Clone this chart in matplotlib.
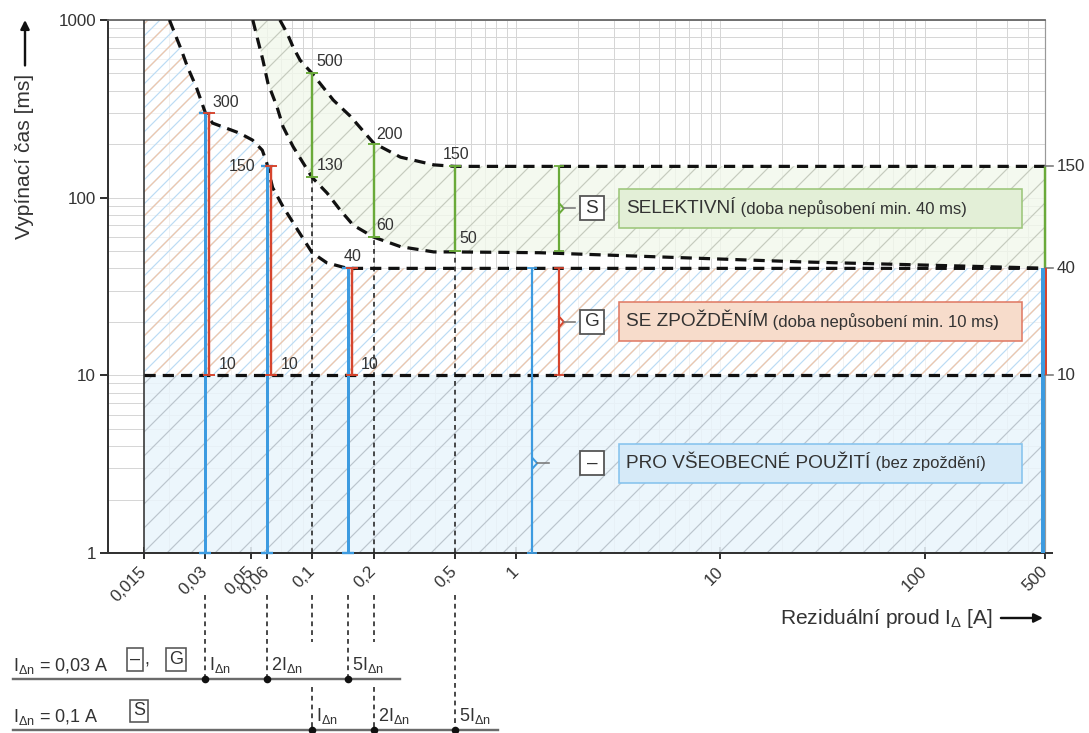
import numpy as np
import matplotlib.pyplot as plt
import matplotlib.transforms as mtransforms
from matplotlib.patches import Rectangle
from matplotlib.ticker import FixedLocator, LogLocator, NullFormatter

plt.rcParams['font.family'] = ['Liberation Sans', 'DejaVu Sans']
plt.rcParams['mathtext.fontset'] = 'custom'
plt.rcParams['mathtext.rm'] = 'Liberation Sans'
plt.rcParams['mathtext.it'] = 'Liberation Sans:italic'
plt.rcParams['hatch.linewidth'] = 0.6

# --- values --------------------------------------------------------------
# upper limit of the "general use" / "G" zone  [A], [ms]
g_x = [0.02, 0.0212, 0.0229, 0.0245, 0.0271, 0.03, 0.0325, 0.038, 0.044, 0.051,
       0.057, 0.06, 0.064, 0.072, 0.087, 0.1, 0.118, 0.142, 0.15, 500]
g_y = [1000, 845, 676, 545, 418, 300, 263, 246, 231, 211,
       185, 156, 114, 89, 63, 49, 43, 40.6, 40, 40]
# selective zone, upper and lower limit
s_up_x = [0.0695, 0.0753, 0.0806, 0.0873, 0.1, 0.127, 0.154, 0.2, 0.271, 0.394, 0.5, 500]
s_up_y = [1000, 845, 706, 594, 500, 354, 287, 203, 169, 153, 150, 150]
s_lo_x = [0.0512, 0.0542, 0.0574, 0.0607, 0.0673, 0.072, 0.0806, 0.0903, 0.1, 0.1185,
          0.1374, 0.159, 0.2, 0.271, 0.394, 0.5, 1.3, 25, 335, 500]
s_lo_y = [1000, 770, 594, 442, 324, 251, 194, 157, 130, 106,
          85, 70, 60, 53, 49.5, 49.5, 49, 43.5, 40.5, 40]

# I_dn = 0.03 A  (general use, G): 1x, 2x, 5x
gen_x = [0.03, 0.06, 0.15]
gen_max = [300, 150, 40]
g_min = 10
# I_dn = 0.1 A  (S): 1x, 2x, 5x
sel_x = [0.1, 0.2, 0.5]
sel_min = [130, 60, 50]
sel_max = [500, 200, 150]

i_min, i_max = 0.015, 500
right_vals = [150, 40, 10]

x_ticks = [0.015, 0.03, 0.05, 0.06, 0.1, 0.2, 0.5, 1, 10, 100, 500]
x_labels = ['0,015', '0,03', '0,05', '0,06', '0,1', '0,2', '0,5', '1', '10', '100', '500']
y_ticks = [1, 10, 100, 1000]

cls_key = ['S', 'G', '\u2013']
cls_title = ['SELEKTIVNÍ', 'SE ZPOŽDĚNÍM', 'PRO VŠEOBECNÉ POUŽITÍ']
cls_note = ['(doba nepůsobení min. 40 ms)', '(doba nepůsobení min. 10 ms)', '(bez zpoždění)']
cls_lo = [50, 10, 1]
cls_hi = [150, 40, 40]
cls_mid = [87, 20, 3.2]
cls_bx = [1.62, 1.62, 1.2]

row_text = ['I$_{\\mathregular{\\Delta n}}$ = 0,03 A', 'I$_{\\mathregular{\\Delta n}}$ = 0,1 A']
row_x = [gen_x, sel_x]
mult = ['', '2', '5']

# colours
BLUE = '#3d9be0'
RED = '#d6452e'
GREEN = '#6aaa3a'
TXT = '#333333'

# --- axes ----------------------------------------------------------------
L500 = np.log10(500)


def fwd(x):
    lx = np.log10(np.clip(x, 1e-9, None))
    return np.interp(lx, [-9, 2, L500, 9], [-9, 2, 2.59, 2.59 + 9 - L500])


def inv(p):
    return 10 ** np.interp(p, [-9, 2, 2.59, 2.59 + 9 - L500], [-9, 2, L500, 9])


fig = plt.figure(figsize=(1089 / 144, 733 / 144), dpi=144)
ax = fig.add_axes([108 / 1089, 1 - 553 / 733, (1045 - 108) / 1089, (553 - 20) / 733])
ax.set_xscale('function', functions=(fwd, inv))
ax.set_yscale('log')
ax.set_xlim(0.01, 500)
ax.set_ylim(1, 1000)

minor_x = [m * 10.0 ** e for e in range(-2, 3) for m in range(2, 10) if m * 10.0 ** e < 500]
ax.xaxis.set_major_locator(FixedLocator(x_ticks))
ax.xaxis.set_minor_locator(FixedLocator(minor_x))
ax.xaxis.set_minor_formatter(NullFormatter())
ax.set_xticklabels(x_labels, rotation=45, ha='right', va='center', rotation_mode='anchor')
ax.set_yticks(y_ticks, [str(v) for v in y_ticks])
ax.yaxis.set_minor_locator(LogLocator(subs=range(2, 10)))
ax.yaxis.set_minor_formatter(NullFormatter())
ax.tick_params(axis='x', which='major', direction='inout', length=6, width=1, color='#333',
               labelsize=8.5, labelcolor=TXT, pad=5)
ax.tick_params(axis='y', which='major', direction='out', length=4, width=1, color='#333',
               labelsize=8.5, labelcolor=TXT, pad=2)
ax.tick_params(which='minor', length=0)
ax.grid(True, which='both', color='#d6d6d6', lw=0.5)
ax.set_axisbelow(True)
for side, c, w in [('left', '#333', 1.0), ('bottom', '#333', 1.0), ('top', '#666', 0.9), ('right', '#999', 0.6)]:
    ax.spines[side].set_color(c)
    ax.spines[side].set_linewidth(w)
ax.plot([1, 1.008], [0, 0], transform=ax.transAxes, color='#333', lw=1.0, clip_on=False)

# --- hatched zones -------------------------------------------------------
ax.fill_between([i_min, i_max], 1, g_min, facecolor='#eaf5fcdd', edgecolor='#bcc6ce',
                hatch='//', lw=0, zorder=1)
gz_x = [i_min, i_min] + g_x + [i_max]
gz_y = [g_min, 1000] + g_y + [g_min]
ax.fill(gz_x, gz_y, facecolor='#ffffffb0', edgecolor='#bcdcf4', hatch='////', lw=0, zorder=1)
ax.fill(gz_x, gz_y, facecolor='none', edgecolor='#f3c6a8', hatch='//', lw=0, zorder=1.1)
sz_x = s_up_x + s_lo_x[::-1]
sz_y = s_up_y + s_lo_y[::-1]
ax.fill(sz_x, sz_y, facecolor='#f2f8ecd0', edgecolor='#c6ccbf', hatch='//', lw=0, zorder=1)

ax.vlines(i_min, 1, 1000, color='#333', lw=0.8, zorder=3)

# --- dashed limit curves -------------------------------------------------
dash = dict(color='#111', lw=1.6, dashes=(3.5, 2.2), dash_capstyle='butt', zorder=4)
ax.plot(g_x, g_y, **dash)
ax.plot(s_up_x, s_up_y, **dash)
ax.plot(s_lo_x, s_lo_y, **dash)
ax.plot([i_min, i_max], [g_min, g_min], **dash)

# dotted guides
dot = dict(color='#222', lw=0.8, dashes=(3, 2.5))
for x, lo in zip(sel_x, sel_min):
    ax.plot([x, x], [1, lo], zorder=3.5, **dot)


def span(x, lo, hi, color, lw, cap, z=5):
    cont = ax.errorbar([x], [hi], yerr=[[hi - lo], [0]], fmt='none', ecolor=color,
                       elinewidth=lw, capsize=cap, capthick=lw * 0.8, zorder=z)
    for grp in cont.lines[1:]:
        for art in grp:
            art.set_clip_on(False)


for x, hi in zip(gen_x, gen_max):
    span(x, 1, hi, BLUE, 1.5, 3.2)
    span(x * 1.045, g_min, hi, RED, 1.2, 3.2, z=5.1)
for x, lo, hi in zip(sel_x, sel_min, sel_max):
    span(x, lo, hi, GREEN, 1.2, 3.2)

# right edge
ax.vlines(i_max, right_vals[1], right_vals[0], color=GREEN, lw=1.2, zorder=5, clip_on=False)
ax.vlines(i_max / 1.03, 1, right_vals[1], color=BLUE, lw=2.0, zorder=5, clip_on=False)
ax.vlines(i_max * 1.01, g_min, right_vals[1], color=RED, lw=1.0, zorder=5.1, clip_on=False)
for v in right_vals:
    ax.plot([i_max, i_max * 1.1], [v, v], color='#777', lw=0.8, clip_on=False, zorder=5)
    ax.annotate(str(v), xy=(i_max, v), xytext=(6, 0), textcoords='offset points',
                ha='left', va='center', fontsize=8.5, color=TXT, annotation_clip=False)

# value labels next to the bars
num = [(gen_x[0], gen_max[0], 3.5, 5, 'left'), (gen_x[0] * 1.045, g_min, 4.5, 5.5, 'left'),
       (gen_x[1], gen_max[1], -5.5, 0, 'right'), (gen_x[1] * 1.045, g_min, 5, 5.5, 'left'),
       (gen_x[2], gen_max[2], 2, 6, 'center'), (gen_x[2] * 1.045, g_min, 4.5, 5.5, 'left'),
       (sel_x[0], sel_max[0], 2, 6, 'left'), (sel_x[0], sel_min[0], 2.5, 6, 'left'),
       (sel_x[1], sel_max[1], 1.5, 5, 'left'), (sel_x[1], sel_min[1], 1.5, 6, 'left'),
       (sel_x[2], sel_max[2], 0.5, 6, 'center'), (sel_x[2], sel_min[2], 2.5, 6.5, 'left')]
for x, v, dx, dy, ha in num:
    ax.annotate(str(v), xy=(x, v), xytext=(dx, dy), textcoords='offset points',
                ha=ha, va='center', fontsize=8, color=TXT, zorder=6)

# --- class brackets and legend boxes --------------------------------------
ycls = ax.get_yaxis_transform()
cls_col = [GREEN, RED, BLUE]
cls_face = ['#e3efd7', '#f7dccb', '#d6eaf8']
cls_edge = ['#9cc77a', '#e07b66', '#86c3ee']
for i in range(3):
    bx, ym = cls_bx[i], cls_mid[i]
    span(bx, cls_lo[i], cls_hi[i], cls_col[i], 1.1, 2.5)
    ax.plot([bx, bx * 1.055, bx], [ym / 1.07, ym, ym * 1.07], color=cls_col[i], lw=1.0, zorder=5)
    ax.plot([bx * 1.055, bx * 1.2], [ym, ym], color='#777', lw=0.8, zorder=5)
    ax.plot([0.5165], [ym], transform=ycls, marker='s', ms=12, mfc='white', mec='#555',
            mew=0.9, zorder=6)
    ax.text(0.5165, ym, cls_key[i], transform=ycls, ha='center', va='center', fontsize=9.5,
            color=TXT, zorder=7)
    ax.add_patch(Rectangle((0.5454, ym / 1.29), 0.43, ym * 1.29 - ym / 1.29, transform=ycls,
                           facecolor=cls_face[i], edgecolor=cls_edge[i], lw=0.8, zorder=6))
    t = ax.text(0.553, ym, cls_title[i], transform=ycls, ha='left', va='center',
                fontsize=9.5, color=TXT, zorder=7)
    ax.annotate(' ' + cls_note[i], xy=(1, 0.5), xycoords=t, ha='left', va='center',
                fontsize=8.3, color=TXT, zorder=7)

# --- axis labels ---------------------------------------------------------
arrow = dict(arrowstyle='-|>', color='#111', lw=1.2, mutation_scale=9, shrinkA=4, shrinkB=0)
ylab = fig.text(25 / 1089, 1 - 156 / 733, 'Vypínací čas [ms]', rotation=90, ha='center',
                va='center', fontsize=10.5, color=TXT)
ax.annotate('', xy=(25 / 1089, 1 - 20 / 733), xycoords='figure fraction',
            xytext=(0.5, 1.0), textcoords=ylab, annotation_clip=False, arrowprops=arrow)
xlab = fig.text(780 / 1089, 1 - 618 / 733, 'Reziduální proud I$_{\\mathregular{\\Delta}}$ [A]',
                ha='left', va='center', fontsize=10.5, color=TXT)
ax.annotate('', xy=(1043 / 1089, 1 - 618 / 733), xycoords='figure fraction',
            xytext=(1.0, 0.5), textcoords=xlab, annotation_clip=False, arrowprops=arrow)

# --- multiples of I_dn below the axis --------------------------------------
xt = ax.get_xaxis_transform()
ft = mtransforms.blended_transform_factory(fig.transFigure, ax.transAxes)
row_y = [-0.236, -0.332]
row_end = [400 / 1089, 498 / 1089]
below = dict(color='#222', lw=0.8, dashes=(3, 2.5), transform=xt, clip_on=False)
for x in gen_x:
    ax.plot([x, x], [-0.079, row_y[0]], **below)
for x in sel_x[:2]:
    ax.plot([x, x], [-0.079, -0.167], **below)
    ax.plot([x, x], [-0.251, row_y[1]], **below)
ax.plot([sel_x[2], sel_x[2]], [-0.079, row_y[1]], **below)

for r in range(2):
    ax.plot([13 / 1089, row_end[r]], [row_y[r], row_y[r]], transform=ft, color='#6b6b6b',
            lw=1.2, clip_on=False)
    ax.text(13 / 1089, row_y[r] + 0.006, row_text[r], transform=ft, ha='left', va='bottom',
            fontsize=9, color=TXT)
    ax.plot(row_x[r], [row_y[r]] * 3, 'o', ms=2.8, color='#111', transform=xt, clip_on=False,
            zorder=6)
    for x, m in zip(row_x[r], mult):
        ax.annotate(m + 'I$_{\\mathregular{\\Delta n}}$', xy=(x, row_y[r]), xycoords=xt,
                    xytext=(2, 2), textcoords='offset points', ha='left', va='bottom',
                    fontsize=9, color=TXT, annotation_clip=False)

box = dict(boxstyle='square,pad=0.15', fc='white', ec='#555', lw=0.8)
ax.text(135 / 1089, row_y[0] + 0.02, cls_key[2], transform=ft, ha='center', va='bottom',
        fontsize=9, color=TXT, bbox=box)
ax.text(147 / 1089, row_y[0] + 0.02, ',', transform=ft, ha='center', va='bottom',
        fontsize=9, color=TXT)
ax.text(176 / 1089, row_y[0] + 0.02, cls_key[1], transform=ft, ha='center', va='bottom',
        fontsize=9, color=TXT, bbox=box)
ax.text(139 / 1089, row_y[1] + 0.02, cls_key[0], transform=ft, ha='center', va='bottom',
        fontsize=9, color=TXT, bbox=box)

fig.savefig('out.png', dpi=144)
